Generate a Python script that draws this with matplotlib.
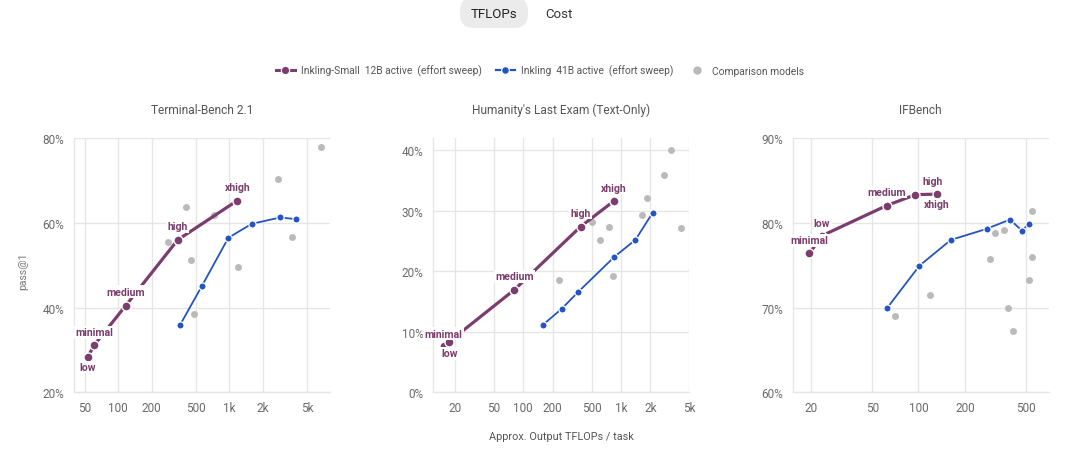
import matplotlib
matplotlib.use('Agg')
import matplotlib.pyplot as plt
from matplotlib.lines import Line2D
from matplotlib.patches import FancyBboxPatch
from matplotlib.ticker import FixedLocator, FixedFormatter, NullLocator

# ---------------- data ----------------
titles = ["Terminal-Bench 2.1", "Humanity's Last Exam (Text-Only)", "IFBench"]

tb_small_labels = ["low", "minimal", "medium", "high", "xhigh"]
tb_small_x = [53, 61, 117, 343, 1180]
tb_small_y = [28.3, 31.2, 40.5, 56.0, 65.3]
tb_big_x = [360, 563, 980, 1590, 2870, 3990]
tb_big_y = [35.9, 45.0, 56.5, 59.8, 61.3, 60.9]
tb_cmp_x = [407, 728, 278, 451, 476, 1206, 2730, 3650, 6670]
tb_cmp_y = [63.8, 61.9, 55.5, 51.3, 38.6, 49.6, 70.3, 56.7, 78.0]

hle_small_labels = ["low", "minimal", "medium", "high", "xhigh"]
hle_small_x = [15.5, 17.2, 81, 386, 841]
hle_small_y = [7.7, 8.3, 16.95, 27.4, 31.6]
hle_big_x = [160, 247, 365, 855, 1403, 2110]
hle_big_y = [11.2, 13.8, 16.6, 22.4, 25.2, 29.7]
hle_cmp_x = [234, 501, 605, 760, 822, 1629, 1833, 2736, 3276, 4081]
hle_cmp_y = [18.5, 28.1, 25.2, 27.35, 19.3, 29.4, 32.1, 35.9, 40.0, 27.1]

if_small_labels = ["minimal", "low", "medium", "high", "xhigh"]
if_small_x = [19.5, 23.6, 62, 95.6, 131.5]
if_small_y = [76.4, 78.5, 82.05, 83.35, 83.4]
if_big_x = [62.8, 101.5, 162.5, 277, 393, 471, 523]
if_big_y = [70.0, 74.96, 78.0, 79.3, 80.4, 79.1, 79.9]
if_cmp_x = [70.2, 118, 293, 314, 359, 382, 413, 526, 547, 550]
if_cmp_y = [68.98, 71.5, 75.7, 78.8, 79.2, 70.0, 67.2, 73.3, 76.0, 81.4]

tb_xticks = [50, 100, 200, 500, 1000, 2000, 5000]
tb_xticklabels = ["50", "100", "200", "500", "1k", "2k", "5k"]
hle_xticks = [20, 50, 100, 200, 500, 1000, 2000, 5000]
hle_xticklabels = ["20", "50", "100", "200", "500", "1k", "2k", "5k"]
if_xticks = [20, 50, 100, 200, 500]
if_xticklabels = ["20", "50", "100", "200", "500"]

tb_yticks = [20, 40, 60, 80]
hle_yticks = [0, 10, 20, 30, 40]
if_yticks = [60, 70, 80, 90]

legend_labels = ["Inkling-Small  12B active  (effort sweep)",
                 "Inkling  41B active  (effort sweep)",
                 "Comparison models"]
toggle_labels = ["TFLOPs", "Cost"]
xlabel = "Approx. Output TFLOPs / task"
ylabel = "pass@1"

# ---------------- style ----------------
plt.rcParams['font.family'] = ['Roboto', 'DejaVu Sans']
PURPLE = '#7b3d6d'
BLUE = '#2453c2'
GRAY = '#bababa'
GRID = '#e6e6e6'
TICK = '#6a6a6a'

W, H = 1080, 456
fig = plt.figure(figsize=(W / 100, H / 100), dpi=100)

# overlay axes in pixel coordinates
ov = fig.add_axes([0, 0, 1, 1], zorder=0)
ov.set_xlim(0, W)
ov.set_ylim(H, 0)
ov.axis('off')
ov.patch.set_alpha(0)

panels = [
    dict(title=titles[0], sx=tb_small_x, sy=tb_small_y, sl=tb_small_labels,
         bx=tb_big_x, by=tb_big_y, cx=tb_cmp_x, cy=tb_cmp_y,
         xt=tb_xticks, xtl=tb_xticklabels, yt=tb_yticks,
         xlim=(40, 8050), ylim=(20, 80),
         offs=[(0, -10), (0, 12.5), (0, 14), (0, 13.5), (0, 13.5)]),
    dict(title=titles[1], sx=hle_small_x, sy=hle_small_y, sl=hle_small_labels,
         bx=hle_big_x, by=hle_big_y, cx=hle_cmp_x, cy=hle_cmp_y,
         xt=hle_xticks, xtl=hle_xticklabels, yt=hle_yticks,
         xlim=(12, 5000), ylim=(0, 42),
         offs=[(5, -7.5), (-5, 8.5), (0, 13.5), (0, 13.5), (0, 13.5)]),
    dict(title=titles[2], sx=if_small_x, sy=if_small_y, sl=if_small_labels,
         bx=if_big_x, by=if_big_y, cx=if_cmp_x, cy=if_cmp_y,
         xt=if_xticks, xtl=if_xticklabels, yt=if_yticks,
         xlim=(15.2, 703), ylim=(60, 90),
         offs=[(0, 13), (0, 12.5), (0, 13.5), (17, 14), (0, -10)]),
]

lefts = [74, 433.3, 792.7]
top, bottom, width = 139.3, 393.3, 256

for p, left in zip(panels, lefts):
    ax = fig.add_axes([left / W, 1 - bottom / H, width / W, (bottom - top) / H], zorder=2)
    ax.patch.set_alpha(0)
    ax.set_xscale('log')
    ax.set_xlim(*p['xlim'])
    ax.set_ylim(*p['ylim'])
    ax.xaxis.set_major_locator(FixedLocator(p['xt']))
    ax.xaxis.set_major_formatter(FixedFormatter(p['xtl']))
    ax.xaxis.set_minor_locator(NullLocator())
    ax.set_yticks(p['yt'])
    ax.set_yticklabels([f"{v}%" for v in p['yt']])
    ax.grid(True, color=GRID, lw=1.0)
    ax.set_axisbelow(True)
    for s in ['top', 'right']:
        ax.spines[s].set_visible(False)
    for s in ['left', 'bottom']:
        ax.spines[s].set_color(GRID)
        ax.spines[s].set_linewidth(1.0)
    ax.tick_params(length=0, labelsize=8.5, colors=TICK, pad=6)
    ax.tick_params(axis='y', pad=7)

    ax.plot(p['cx'], p['cy'], ls='none', marker='o', ms=5, color=GRAY, mew=0, zorder=2)
    ax.plot(p['bx'], p['by'], '-', color=BLUE, lw=1.3, marker='o', ms=5.2,
            mfc=BLUE, mec='white', mew=0.9, zorder=3)
    ax.plot(p['sx'], p['sy'], '-', color=PURPLE, lw=2.3, marker='o', ms=6.5,
            mfc=PURPLE, mec='white', mew=1.0, zorder=4)
    for lbl, x, y, (dx, dy) in zip(p['sl'], p['sx'], p['sy'], p['offs']):
        ax.annotate(lbl, (x, y), xytext=(dx, dy), textcoords='offset pixels',
                    ha='center', va='center', fontsize=7.6, fontweight='bold',
                    color=PURPLE, zorder=6,
                    bbox=dict(boxstyle='square,pad=0.12', fc='white', ec='none'))

    ov.text(left + width / 2, 110.7, p['title'], ha='center', va='center',
            fontsize=8.6, color='#555555')

# axis labels
ov.text(23.3, 271.7, ylabel, rotation=90, ha='center', va='center',
        fontsize=7.5, color='#777777')
ov.text(561.3, 437, xlabel, ha='center', va='center', fontsize=7.8, color='#555555')

# toggle
pill = FancyBboxPatch((460, -2), 68, 31, boxstyle='round,pad=0,rounding_size=14',
                      fc='#ebebeb', ec='none')
ov.add_patch(pill)
ov.text(494, 14, toggle_labels[0], ha='center', va='center', fontsize=9.5, color='#222222')
ov.text(559, 14, toggle_labels[1], ha='center', va='center', fontsize=9.5, color='#333333')

# legend
handles = [
    Line2D([], [], color=PURPLE, lw=2.2, marker='o', ms=6, mec='white', mew=0.8),
    Line2D([], [], color=BLUE, lw=1.6, marker='o', ms=5.5, mec='white', mew=0.8),
    Line2D([], [], ls='none', color=GRAY, marker='o', ms=6, mew=0),
]
fig.legend(handles, legend_labels, loc='center', bbox_to_anchor=(0.5, 1 - 71.7 / H),
           ncol=3, frameon=False, fontsize=7.4, handlelength=1.85, handletextpad=0.58,
           columnspacing=1.36, labelcolor='#555555')

fig.savefig('out.png', dpi=100)
